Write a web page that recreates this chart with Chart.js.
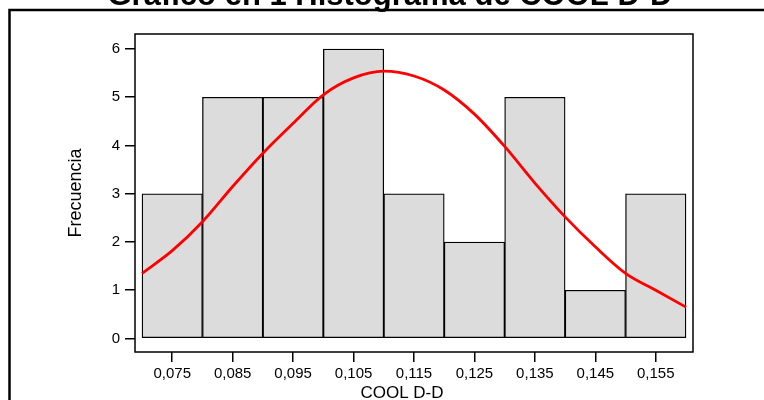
<!DOCTYPE html>
<html>
<head>
<meta charset="utf-8">
<script src="https://cdn.jsdelivr.net/npm/chart.js@4.4.1/dist/chart.umd.min.js"></script>
<style>
  html, body { margin: 0; padding: 0; background: #fff; }
  canvas { display: block; }
</style>
</head>
<body>
<canvas id="hist" width="764" height="400"></canvas>
<script>
// histogram bins (centres) and their counts
const binCenters = [0.075, 0.085, 0.095, 0.105, 0.115, 0.125, 0.135, 0.145, 0.155];
const counts = [3, 5, 5, 6, 3, 2, 5, 1, 3];

// fitted normal curve
const curveX = [0.070, 0.075, 0.080, 0.085, 0.090, 0.095, 0.100, 0.105, 0.110, 0.115,
  0.120, 0.125, 0.130, 0.135, 0.140, 0.145, 0.150, 0.155, 0.160];
const curveY = [1.35, 1.82, 2.42, 3.15, 3.84, 4.46, 5.05, 5.40, 5.54, 5.44,
  5.15, 4.65, 3.98, 3.22, 2.52, 1.90, 1.35, 1.00, 0.65];

const xTicks = [0.075, 0.085, 0.095, 0.105, 0.115, 0.125, 0.135, 0.145, 0.155];
const yTicks = [0, 1, 2, 3, 4, 5, 6];

const titleText = 'Gráfico en 1 Histograma de COOL D-D';
const xTitle = 'COOL D-D';
const yTitle = 'Frecuencia';

const tickFont = { family: '"Liberation Sans Narrow", "Liberation Sans", Arial, sans-serif', size: 15 };
const fmtComma = (v) => v.toFixed(3).replace('.', ',');

// caja del área de datos + marco exterior + títulos (lo que no dibuja Chart.js)
const framePlugin = {
  id: 'frame',
  afterDraw(chart) {
    const { ctx, chartArea: a } = chart;
    ctx.save();
    ctx.strokeStyle = '#000';
    ctx.lineWidth = 1.5;
    ctx.strokeRect(a.left, a.top, a.right - a.left, a.bottom - a.top);

    ctx.lineWidth = 2.5;
    ctx.beginPath();
    ctx.moveTo(9.5, 400);
    ctx.lineTo(9.5, 10);
    ctx.lineTo(764, 10);
    ctx.stroke();

    ctx.fillStyle = '#000';
    ctx.textAlign = 'center';
    ctx.textBaseline = 'alphabetic';
    ctx.font = 'bold 31px "Liberation Sans", Arial, sans-serif';
    ctx.fillText(titleText, 390, 5);
    ctx.font = '17px "Liberation Sans", Arial, sans-serif';
    ctx.fillText(xTitle, 402, 398);
    ctx.restore();
  },
};

new Chart(document.getElementById('hist'), {
  type: 'bar',
  data: {
    datasets: [
      {
        type: 'line',
        label: 'normal',
        data: curveX.map((x, i) => ({ x, y: curveY[i] })),
        borderColor: '#ff0000',
        borderWidth: 2.8,
        pointRadius: 0,
        cubicInterpolationMode: 'monotone',
        order: 0,
      },
      {
        type: 'bar',
        label: 'frecuencia',
        data: binCenters.map((x, i) => ({ x, y: counts[i] })),
        backgroundColor: '#dcdcdc',
        borderColor: '#000',
        borderWidth: 1.3,
        borderSkipped: false,
        barPercentage: 1,
        categoryPercentage: 1,
        order: 1,
      },
    ],
  },
  options: {
    responsive: false,
    animation: false,
    layout: { padding: { left: 0, top: 34, right: 71, bottom: 0 } },
    plugins: { legend: { display: false }, tooltip: { enabled: false }, title: { display: false } },
    scales: {
      x: {
        type: 'linear',
        min: 0.06884,
        max: 0.16116,
        offset: false,
        border: { display: false },
        grid: { offset: false, drawOnChartArea: false, drawTicks: true, tickLength: 10, color: '#000', lineWidth: 1.5 },
        afterBuildTicks: (s) => { s.ticks = xTicks.map((v) => ({ value: v })); },
        afterFit: (s) => { s.height = 48; },
        ticks: { color: '#000', font: tickFont, padding: 3, maxRotation: 0, autoSkip: false, callback: (v) => fmtComma(v) },
      },
      y: {
        min: -0.28,
        max: 6.31,
        border: { display: false },
        grid: { drawOnChartArea: false, drawTicks: true, tickLength: 10, color: '#000', lineWidth: 1.5 },
        afterBuildTicks: (s) => { s.ticks = yTicks.map((v) => ({ value: v })); },
        afterFit: (s) => { s.width = 135; },
        ticks: { color: '#000', font: tickFont, padding: 5, callback: (v) => String(v) },
        title: {
          display: true,
          text: yTitle,
          color: '#000',
          font: { family: '"Liberation Sans", Arial, sans-serif', size: 18 },
          padding: { top: 65, bottom: 0 },
        },
      },
    },
  },
  plugins: [framePlugin],
});
</script>
</body>
</html>
